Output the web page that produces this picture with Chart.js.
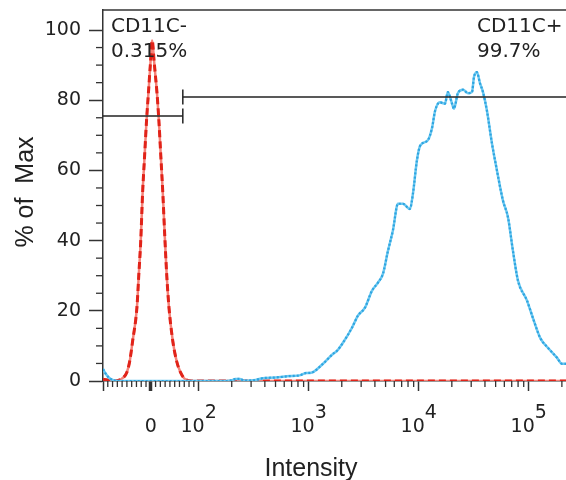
<!DOCTYPE html>
<html>
<head>
<meta charset="utf-8">
<script src="https://cdn.jsdelivr.net/npm/chart.js@4.4.1/dist/chart.umd.min.js"></script>
<style>
  html, body { margin: 0; padding: 0; background: #fff; }
  canvas { display: block; }
</style>
</head>
<body>
<canvas id="chart" width="566" height="480"></canvas>
<script>
// CD11C+ sample (blue), intensity vs % of max
const blueX = [-100, -95, -88, -80, -70, 0, 100, 180, 200, 218, 237, 260, 330, 384, 500,
  675, 830, 960, 1030, 1350, 1660, 1810, 2050, 2470, 2800, 3250, 3760, 4260, 4730, 5250,
  5830, 6480, 7190, 8320, 8860, 9640, 10300, 12100, 13200, 14100, 15600, 17300, 18400, 20100, 20900,
  22700, 25300, 28000, 30500, 31800, 33800, 36000, 38400, 41700, 46300, 51400, 58300, 64800, 71900, 79800,
  96400, 109000, 127000, 150000, 181000, 200000, 218000];
const blueY = [3.4, 2.2, 1.0, 0.3, 0, 0, 0, 0, 0.2, 0.6, 0.6, 0.1, 0.3, 0.8, 1.0,
  1.4, 1.6, 2.3, 2.3, 4.9, 7.7, 8.6, 10.9, 15.1, 18.6, 20.9, 25.7, 28, 30.5, 37,
  42.9, 50.5, 50.5, 49, 53.3, 62.9, 67, 68.6, 72, 77, 79.4, 79, 82.3, 79, 77.6,
  82, 83, 82, 82.3, 86.6, 88, 84.9, 82.3, 77, 67.7, 60, 51.4, 46.6, 37, 28.6,
  22.9, 18, 12.3, 9.4, 6.6, 4.9, 4.9];

// control (red)
const redX = [-100, -90, -75, -61, -50, -44, -38, -29, -25, -21, -17, -13, -9, -5, -1, 3, 7, 9,
  13, 17, 21, 25, 29, 33, 38, 46, 54, 62, 71, 86, 218000];
const redY = [0.5, 0.3, 0, 0.6, 2.5, 5.7, 11.4, 21, 30.5, 40, 54, 64, 74, 82, 90, 97, 91, 88,
  82, 74, 64, 54, 42, 31, 21, 11.4, 5.7, 2.5, 0.6, 0, 0];

// gates
const gateNegX = [-100, 67];
const gateNegY = [75.5, 75.5];
const gatePosX = [67, 218000];
const gatePosY = [80.9, 80.9];
const gateNames = ["CD11C-", "CD11C+"];
const gatePercents = ["0.315%", "99.7%"];

// axes
const xMajorTicks = [-100, 0, 100, 1000, 10000, 100000];
const xMinorTicks = [-90, -80, -70, -60, -50, -40, -30, -20, -10, 10, 20, 30, 40, 50, 60, 70, 80, 90,
  200, 300, 400, 500, 600, 700, 800, 900, 2000, 3000, 4000, 5000, 6000, 7000, 8000, 9000,
  20000, 30000, 40000, 50000, 60000, 70000, 80000, 90000, 200000];
const xLabelValues = [0, 100, 1000, 10000, 100000];
const xLabelExponents = [null, 2, 3, 4, 5];
const yMajorTicks = [0, 20, 40, 60, 80, 100];
const yMinorTicks = [5, 10, 15, 25, 30, 35, 45, 50, 55, 65, 70, 75, 85, 90, 95];

// biexponential-like axis: linear below 100, log above
const LIN = 100;
function fwd(v) {
  const a = Math.abs(v);
  if (a <= LIN) return v / (LIN * Math.LN10);
  return Math.sign(v) * (1 / Math.LN10 + Math.log10(a / LIN));
}
function inv(t) {
  const a = Math.abs(t);
  if (a <= 1 / Math.LN10) return t * LIN * Math.LN10;
  return Math.sign(t) * LIN * Math.pow(10, a - 1 / Math.LN10);
}

class BiexScale extends Chart.Scale {
  static id = 'biex';
  static defaults = {};
  determineDataLimits() {
    this.min = this.options.min;
    this.max = this.options.max;
  }
  buildTicks() {
    return xMajorTicks.map(v => ({ value: v }));
  }
  getLabelForValue(v) { return String(v); }
  configure() {
    super.configure();
    this._t0 = fwd(this.min);
    this._t1 = fwd(this.max);
  }
  getPixelForValue(v) {
    return this.getPixelForDecimal((fwd(v) - this._t0) / (this._t1 - this._t0));
  }
  getValueForPixel(p) {
    return inv(this._t0 + this.getDecimalForPixel(p) * (this._t1 - this._t0));
  }
}
Chart.register(BiexScale);

const pts = (xs, ys) => xs.map((x, i) => ({ x: x, y: ys[i] }));

const decorations = {
  id: 'decorations',
  afterDraw(chart) {
    const { ctx, chartArea: a, scales: { x, y } } = chart;
    ctx.save();
    ctx.strokeStyle = '#333';
    ctx.lineWidth = 1.5;
    ctx.beginPath();
    ctx.moveTo(a.left, a.top);
    ctx.lineTo(a.right, a.top);
    ctx.stroke();

    ctx.lineWidth = 1.3;
    xMinorTicks.forEach(v => {
      const px = x.getPixelForValue(v);
      ctx.beginPath();
      ctx.moveTo(px, a.bottom);
      ctx.lineTo(px, a.bottom + 6);
      ctx.stroke();
    });
    yMinorTicks.forEach(v => {
      const py = y.getPixelForValue(v);
      ctx.beginPath();
      ctx.moveTo(a.left - 7, py);
      ctx.lineTo(a.left, py);
      ctx.stroke();
    });

    // x tick labels with raised exponents
    ctx.fillStyle = '#222';
    ctx.font = '19px "DejaVu Sans"';
    ctx.textBaseline = 'alphabetic';
    xLabelValues.forEach((v, i) => {
      const px = x.getPixelForValue(v);
      const e = xLabelExponents[i];
      if (e === null) {
        ctx.textAlign = 'center';
        ctx.fillText(String(v), px, a.bottom + 51);
        return;
      }
      const wb = ctx.measureText('10').width;
      const we = ctx.measureText(String(e)).width;
      const start = px - (wb + we) / 2;
      ctx.textAlign = 'left';
      ctx.fillText('10', start, a.bottom + 51);
      ctx.fillText(String(e), start + wb, a.bottom + 37);
    });

    // gate annotations
    ctx.font = '20px "DejaVu Sans"';
    ctx.textAlign = 'left';
    ctx.fillText(gateNames[0], 111, 32);
    ctx.fillText(gatePercents[0], 111, 57);
    ctx.fillText(gateNames[1], 477, 32);
    ctx.fillText(gatePercents[1], 477, 57);

    // axis titles
    ctx.font = '25px "Liberation Sans"';
    ctx.textAlign = 'center';
    ctx.fillText('Intensity', 311, 476);
    ctx.translate(33, 192);
    ctx.rotate(-Math.PI / 2);
    ctx.fillText('% of  Max', 0, 0);
    ctx.restore();
  }
};

new Chart(document.getElementById('chart'), {
  type: 'line',
  data: {
    datasets: [
      { data: pts(gateNegX, gateNegY), borderColor: '#222', borderWidth: 1.5,
        pointStyle: 'line', rotation: 90, pointRadius: [0, 7.5], pointBorderColor: '#222', pointBorderWidth: 1.5 },
      { data: pts(gatePosX, gatePosY), borderColor: '#222', borderWidth: 1.5,
        pointStyle: 'line', rotation: 90, pointRadius: [7.5, 0], pointBorderColor: '#222', pointBorderWidth: 1.5 },
      { data: pts(blueX, blueY), borderColor: 'rgb(45,165,225)', borderWidth: 2.2, borderDash: [2, 2],
        pointRadius: 0, cubicInterpolationMode: 'monotone' },
      { data: pts(blueX, blueY), borderColor: 'rgb(110,200,240)', borderWidth: 2.5,
        pointRadius: 0, cubicInterpolationMode: 'monotone' },
      { data: pts(redX, redY), borderColor: 'rgb(225,35,25)', borderWidth: 3, borderDash: [7, 4],
        pointRadius: 0, cubicInterpolationMode: 'monotone' },
      { data: pts(redX, redY), borderColor: 'rgb(245,130,120)', borderWidth: 2.5,
        pointRadius: 0, cubicInterpolationMode: 'monotone' }
    ]
  },
  options: {
    responsive: false,
    animation: false,
    devicePixelRatio: 1,
    layout: { autoPadding: false, padding: { top: 10, left: 0, right: 0, bottom: 0 } },
    plugins: { legend: { display: false }, tooltip: { enabled: false } },
    scales: {
      x: {
        type: 'biex',
        min: -100,
        max: 218000,
        afterFit: s => { s.height = 99; s.paddingLeft = 0; s.paddingRight = 0; },
        grid: {
          drawOnChartArea: false, tickLength: 10, tickColor: '#333',
          tickWidth: c => (c.tick && c.tick.value === 0 ? 3.5 : 1.5)
        },
        border: { color: '#333', width: 1.5 },
        ticks: { display: false, autoSkip: false }
      },
      y: {
        min: 0,
        max: 105.7,
        afterFit: s => { s.width = 103; s.paddingTop = 0; s.paddingBottom = 0; },
        afterBuildTicks: s => { s.ticks = yMajorTicks.map(v => ({ value: v })); },
        grid: { drawOnChartArea: false, tickLength: 14, tickColor: '#333', tickWidth: 1.5 },
        border: { color: '#333', width: 1.5 },
        ticks: { color: '#222', padding: 8, font: { family: 'DejaVu Sans', size: 19, lineHeight: 1 } }
      }
    }
  },
  plugins: [decorations]
});
</script>
</body>
</html>
